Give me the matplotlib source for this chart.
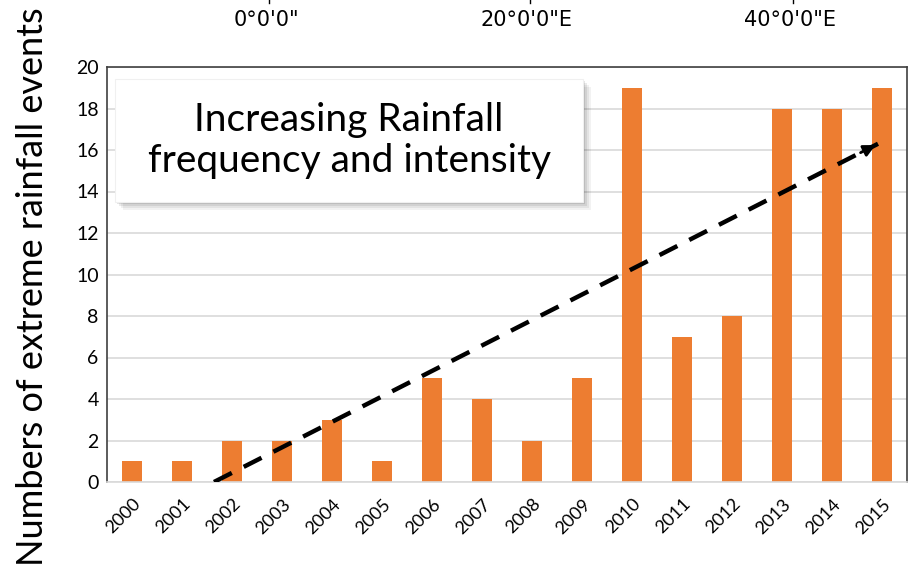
import matplotlib
matplotlib.use("Agg")
import matplotlib.pyplot as plt
from matplotlib.patches import FancyBboxPatch

# Datos del gráfico
years = ["2000", "2001", "2002", "2003", "2004", "2005", "2006", "2007",
         "2008", "2009", "2010", "2011", "2012", "2013", "2014", "2015"]
events = [1, 1, 2, 2, 3, 1, 5, 4, 2, 5, 19, 7, 8, 18, 18, 19]
trend_x = [1.64, 14.92]
trend_y = [0, 16.3]
map_labels = ["0°0'0\"", "20°0'0\"E", "40°0'0\"E"]
map_label_x = [266, 527, 790]

BAR_COLOR = "#ED7D31"
FONT = ["Lato", "DejaVu Sans"]


def main():
    fig = plt.figure(figsize=(9.1, 5.73), dpi=100)
    ax = fig.add_axes([107 / 910, 91 / 573, 800 / 910, 415 / 573])

    x = list(range(len(years)))
    ax.bar(x, events, width=0.4, color=BAR_COLOR, zorder=2)
    ax.set_xlim(-0.5, len(years) - 0.5)
    ax.set_ylim(0, 20)
    ax.set_yticks(range(0, 21, 2))
    ax.set_xticks(x)
    ax.set_xticklabels(years, rotation=45, ha="right", rotation_mode="anchor",
                       fontsize=13, family=FONT)
    for lab in ax.get_yticklabels():
        lab.set_fontsize(14)
        lab.set_family(FONT)
    ax.tick_params(length=0, pad=6)
    ax.tick_params(axis="x", pad=10)
    ax.grid(axis="y", color="#d9d9d9", linewidth=1.2, zorder=0)
    ax.set_axisbelow(True)
    for side in ["left", "top", "right"]:
        ax.spines[side].set_color("#404040")
        ax.spines[side].set_linewidth(1.2)
    ax.spines["bottom"].set_color("#d9d9d9")
    ax.spines["bottom"].set_linewidth(1.2)

    ax.set_ylabel("Numbers of extreme rainfall events", fontsize=26,
                  family=FONT)
    ax.yaxis.set_label_coords(-0.072, 0.471)

    # Línea de tendencia discontinua con flecha
    ax.plot(trend_x, trend_y, color="black", linewidth=3.2,
            dashes=(4.5, 3), zorder=4, solid_capstyle="butt")
    dx = trend_x[1] - trend_x[0]
    dy = trend_y[1] - trend_y[0]
    ax.annotate("", xy=(trend_x[1], trend_y[1]),
                xytext=(trend_x[1] - dx * 0.03, trend_y[1] - dy * 0.03),
                arrowprops=dict(arrowstyle="-|>,head_length=0.7,head_width=0.35",
                                color="black", lw=2), zorder=5)

    # Cuadro de texto con sombra
    x0, y0, w, h = 0.01, 0.675, 0.585, 0.296
    for i, a in enumerate([0.05, 0.06, 0.08, 0.1]):
        off = 0.004 * (4 - i)
        sh = FancyBboxPatch((x0 + off * 0.6, y0 - off * 1.2), w, h,
                            boxstyle="square,pad=0", transform=ax.transAxes,
                            facecolor="black", edgecolor="none", alpha=a,
                            zorder=5)
        ax.add_patch(sh)
    box = FancyBboxPatch((x0, y0), w, h, boxstyle="square,pad=0",
                         transform=ax.transAxes, facecolor="white",
                         edgecolor="#f0f0f0", linewidth=0.8, zorder=6)
    ax.add_patch(box)
    ax.text(x0 + w / 2, y0 + h / 2, "Increasing Rainfall\nfrequency and intensity",
            transform=ax.transAxes, ha="center", va="center", fontsize=28,
            family=FONT, linespacing=1.2, zorder=7)

    # Etiquetas de mapa recortadas en la parte superior
    for lab, px in zip(map_labels, map_label_x):
        fig.text(px / 910, 1 - 20 / 573, lab, ha="center", va="center",
                 fontsize=15, family=["Liberation Sans Narrow", "DejaVu Sans"])
        fig.lines.append(plt.Line2D([px / 910 + 0.003] * 2, [1.0, 1 - 3 / 573],
                                    transform=fig.transFigure, color="black",
                                    linewidth=1))

    fig.savefig("out.png", dpi=100)
    plt.close(fig)


if __name__ == "__main__":
    main()
